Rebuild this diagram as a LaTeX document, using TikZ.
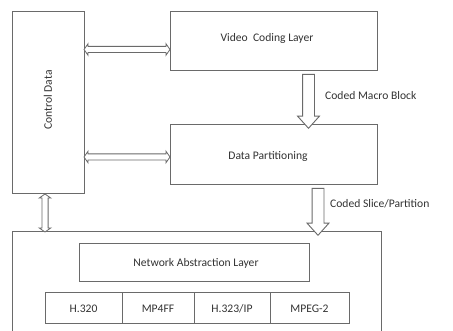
\documentclass[tikz,border=0pt]{standalone}
\usepackage{fontspec}
\setmainfont{Carlito}
\usetikzlibrary{shapes.arrows}
\definecolor{edge}{HTML}{6A6A6A}
\definecolor{ink}{HTML}{333333}
\begin{document}
\begin{tikzpicture}[x=1pt,y=-1pt,
  box/.style={draw=edge, line width=1pt},
  lbl/.style={text=ink, font=\fontsize{11.6}{14}\selectfont, inner sep=0pt},
  hollowdown/.style={draw=edge, line width=0.9pt, fill=white, single arrow, shape border rotate=270,
    inner sep=5.5pt, single arrow head extend=5pt, single arrow tip angle=84},
  dbl/.style={draw=edge, line width=0.8pt, fill=white, double arrow, inner sep=2.7pt,
    double arrow head extend=2.7pt, double arrow tip angle=110}]
\clip (0,0) rectangle (453,331);
\fill[white] (0,0) rectangle (453,331);
% boxes
\draw[box] (12,12) rectangle (84,194);
\node[lbl, rotate=90] (cd) at (48,100) {Control Data};
\draw[box] (170,12) rectangle (377,71);
\node[lbl] (vcl) at (267,38) {Video~ Coding Layer};
\draw[box] (170,125) rectangle (377,185);
\node[lbl] (dp) at (268,156) {Data Partitioning};
\draw[box] (12,232) rectangle (381,345);
\draw[box] (79,244) rectangle (309,282);
\node[lbl] (nal) at (196,263) {Network Abstraction Layer};
\draw[box] (45,293) rectangle (349,324);
\draw[box] (122,293) -- (122,324) (194,293) -- (194,324) (270,293) -- (270,324);
\node[lbl] (h320) at (83.5,309) {H.320};
\node[lbl] (mp4) at (158,309) {MP4FF};
\node[lbl] (h323) at (232,309) {H.323/IP};
\node[lbl] (mpeg) at (309.5,309) {MPEG-2};
% arrows
\node[dbl, minimum height=86pt] (a1) at (127,49.5) {};
\node[dbl, minimum height=86pt] (a2) at (127,157) {};
\node[dbl, rotate=90, minimum height=38pt] (a3) at (45,213) {};
\node[hollowdown, minimum height=54pt] (d1) at (308.5,98) {};
\node[hollowdown, minimum height=47pt] (d2) at (318,208.5) {};
\node[lbl, anchor=west] (l1) at (325,96) {Coded Macro Block};
\node[lbl, anchor=west] (l2) at (330,204) {Coded Slice/Partition};
\end{tikzpicture}
\end{document}
